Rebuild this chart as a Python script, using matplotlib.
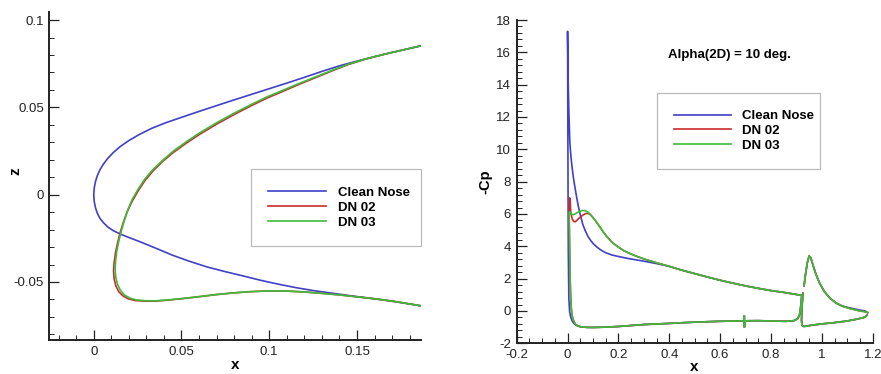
import matplotlib
matplotlib.use('Agg')
import matplotlib.pyplot as plt
import numpy as np
from matplotlib.ticker import MultipleLocator, FormatStrFormatter

plt.rcParams['font.family'] = ['Liberation Sans', 'DejaVu Sans']
plt.rcParams['axes.unicode_minus'] = False

# ---- nose contours (x, z), upper trailing end -> leading edge -> lower trailing end ----
clean_x = [0.1862, 0.17, 0.16, 0.15, 0.14, 0.13, 0.12, 0.11, 0.1, 0.09, 0.08, 0.07, 0.0606, 0.05,
           0.041, 0.033, 0.026, 0.02, 0.015, 0.011, 0.008, 0.0055, 0.0035, 0.002, 0.001, 0.0003, 0.0,
           0.0003, 0.001, 0.002, 0.0035, 0.0055, 0.008, 0.011, 0.015, 0.02, 0.027, 0.035, 0.045,
           0.055, 0.065, 0.075, 0.085, 0.095, 0.105, 0.115, 0.125, 0.135, 0.145, 0.155, 0.165, 0.175,
           0.1862]
clean_z = [0.0852, 0.0815, 0.079, 0.0765, 0.0738, 0.0706, 0.0672, 0.0639, 0.0607, 0.0575, 0.0543,
           0.051, 0.0479, 0.0443, 0.0412, 0.038, 0.0345, 0.031, 0.0275, 0.024, 0.0208, 0.0175, 0.0142,
           0.0108, 0.0075, 0.004, 0.0, -0.004, -0.0075, -0.0105, -0.0135, -0.016, -0.0185, -0.0205,
           -0.0225, -0.0245, -0.0272, -0.0305, -0.0347, -0.0383, -0.0415, -0.0441, -0.0465, -0.049,
           -0.0512, -0.0532, -0.0549, -0.0563, -0.0577, -0.059, -0.0603, -0.0618, -0.0636]

dn02_x = [0.1862, 0.175, 0.165, 0.155, 0.145, 0.137, 0.128, 0.118, 0.108, 0.0989, 0.09, 0.08, 0.07,
          0.0607, 0.053, 0.0455, 0.0392, 0.0337, 0.0292, 0.0257, 0.0222, 0.0193, 0.0171, 0.0152, 0.0137,
          0.0124, 0.0116, 0.0113, 0.0116, 0.0126, 0.0143, 0.0167, 0.0198, 0.0235, 0.029, 0.035, 0.042,
          0.05, 0.06, 0.07, 0.08, 0.09, 0.1, 0.11, 0.12, 0.13, 0.14, 0.15, 0.16, 0.17, 0.1862]
dn02_z = [0.0852, 0.0826, 0.0803, 0.0777, 0.0745, 0.0714, 0.0677, 0.0636, 0.0593, 0.0554, 0.0511,
          0.0459, 0.0404, 0.0348, 0.0297, 0.0243, 0.019, 0.0135, 0.0081, 0.0028, -0.0032, -0.0092,
          -0.0152, -0.0212, -0.0272, -0.0332, -0.0392, -0.0435, -0.048, -0.0522, -0.0556, -0.058,
          -0.0597, -0.0606, -0.061, -0.061, -0.0604, -0.0596, -0.0584, -0.0572, -0.0562, -0.0555,
          -0.0551, -0.0552, -0.0557, -0.0565, -0.0574, -0.0585, -0.0596, -0.0609, -0.0636]

dn03_x = [0.1862, 0.175, 0.165, 0.155, 0.145, 0.137, 0.128, 0.118, 0.108, 0.0989, 0.09, 0.08, 0.07,
          0.0607, 0.053, 0.0455, 0.0393, 0.0335, 0.029, 0.0255, 0.022, 0.0195, 0.0175, 0.0158, 0.0143,
          0.0131, 0.0124, 0.0122, 0.0126, 0.0136, 0.0152, 0.0175, 0.0205, 0.024, 0.029, 0.035, 0.042,
          0.05, 0.06, 0.07, 0.08, 0.09, 0.1, 0.11, 0.12, 0.13, 0.14, 0.15, 0.16, 0.17, 0.1862]
dn03_z = [0.0852, 0.0826, 0.0803, 0.0778, 0.0747, 0.0717, 0.0681, 0.0641, 0.0599, 0.0561, 0.0518,
          0.0467, 0.0412, 0.0356, 0.0305, 0.0251, 0.0197, 0.0142, 0.0088, 0.0035, -0.0025, -0.0085,
          -0.0145, -0.0205, -0.0265, -0.0325, -0.0385, -0.0431, -0.0475, -0.0515, -0.0548, -0.0574,
          -0.0592, -0.0602, -0.0607, -0.0608, -0.0603, -0.0595, -0.0584, -0.0572, -0.0562, -0.0555,
          -0.0551, -0.0552, -0.0557, -0.0565, -0.0574, -0.0585, -0.0596, -0.0609, -0.0636]

# ---- -Cp distributions, alpha = 10 deg ----
# main element, front part (lower branch reversed up to the peak, then upper branch)
clean_lo_x = [0.1, 0.08, 0.06, 0.045, 0.033, 0.024, 0.017, 0.012, 0.008, 0.005, 0.003, 0.002, 0.001, 0.0]
clean_lo_cp = [-1.02, -1.02, -1.0, -0.96, -0.88, -0.76, -0.58, -0.35, -0.05, 0.8, 3.5, 7.0, 12.0, 17.3]
clean_up_x = [0.002, 0.005, 0.009, 0.013, 0.017, 0.022, 0.028, 0.035, 0.042, 0.05, 0.06, 0.07, 0.08,
              0.09, 0.1, 0.115, 0.13, 0.15, 0.175, 0.2, 0.24, 0.3, 0.35]
clean_up_cp = [14.5, 12.4, 10.4, 9.6, 9.0, 8.35, 7.75, 7.1, 6.5, 5.95, 5.35, 4.95, 4.62,
               4.38, 4.18, 3.96, 3.78, 3.6, 3.46, 3.37, 3.24, 3.08, 2.93]

dn_lo_x = [0.1, 0.075, 0.05, 0.04, 0.032, 0.026, 0.021, 0.017, 0.014, 0.012, 0.010, 0.008, 0.006]
dn_lo_cp = [-1.02, -1.01, -0.97, -0.92, -0.83, -0.7, -0.5, -0.2, 0.3, 1.0, 2.0, 4.0, 6.1]
dn02_up_x = [0.008, 0.01, 0.012, 0.015, 0.018, 0.022, 0.026, 0.03, 0.035, 0.04, 0.045, 0.05, 0.06,
             0.07, 0.08, 0.09, 0.1, 0.11, 0.12, 0.13, 0.14, 0.153, 0.165, 0.175, 0.19, 0.2, 0.22,
             0.244, 0.27, 0.3, 0.35]
dn02_up_cp = [7.0, 6.95, 6.2, 5.9, 5.72, 5.58, 5.52, 5.52, 5.58, 5.66, 5.74, 5.8, 5.93,
              6.02, 6.04, 5.95, 5.78, 5.58, 5.36, 5.13, 4.9, 4.63, 4.42, 4.25, 4.06, 3.95, 3.74,
              3.56, 3.39, 3.22, 2.98]
dn03_up_x = [0.009, 0.015, 0.022, 0.03, 0.04, 0.05, 0.06, 0.07, 0.08, 0.09, 0.1, 0.11, 0.12, 0.13,
             0.14, 0.153, 0.165, 0.175, 0.19, 0.2, 0.22, 0.244, 0.27, 0.3, 0.35]
dn03_up_cp = [6.15, 6.0, 5.95, 6.0, 6.1, 6.18, 6.22, 6.2, 6.12, 5.97, 5.78, 5.58, 5.36, 5.13,
              4.9, 4.63, 4.42, 4.25, 4.06, 3.95, 3.74, 3.56, 3.39, 3.22, 2.98]

# main element, aft upper surface and lower surface back to the trailing edge
aft_up_x = [0.40, 0.45, 0.50, 0.55, 0.60, 0.65, 0.70, 0.75, 0.80, 0.85, 0.90, 0.921]
aft_up_cp = [2.76, 2.52, 2.31, 2.1, 1.9, 1.72, 1.55, 1.4, 1.26, 1.15, 1.02, 0.96]
aft_lo_x = [0.15, 0.2, 0.3, 0.4, 0.5, 0.6, 0.694, 0.695, 0.6955, 0.696, 0.75, 0.8, 0.86,
            0.89, 0.905, 0.912, 0.916, 0.919, 0.921]
aft_lo_cp = [-1.0, -0.96, -0.84, -0.77, -0.69, -0.64, -0.61, -0.3, -1.0, -0.61, -0.6, -0.62, -0.64,
             -0.6, -0.48, -0.25, 0.15, 0.6, 0.96]

# flap
flap_x = [1.178, 1.17, 1.14, 1.10, 1.05, 1.00, 0.96, 0.93, 0.922, 0.92, 0.921, 0.923, 0.926, np.nan,
          0.930, 0.936, 0.943, 0.950, 0.956, 0.965, 0.975, 0.99, 1.01, 1.03, 1.055, 1.08, 1.11, 1.145,
          1.17, 1.18]
flap_cp = [-0.25, -0.38, -0.5, -0.62, -0.72, -0.8, -0.88, -0.96, -0.9, -0.6, -0.1, 0.5, 1.1, np.nan,
           1.55, 2.3, 3.0, 3.4, 3.3, 2.85, 2.35, 1.75, 1.2, 0.82, 0.5, 0.3, 0.15, 0.02,
           -0.05, -0.1]
clean_flap_cp = [-0.25, -0.38, -0.5, -0.62, -0.72, -0.8, -0.88, -0.96, -0.9, -0.6, -0.1, 0.5, 1.1, np.nan,
                 1.55, 2.3, 3.0, 3.4, 3.3, 2.85, 2.35, 1.75, 1.2, 0.82, 0.5, 0.3, 0.19, 0.07,
                 0.0, -0.1]

labels = ['Clean Nose', 'DN 02', 'DN 03']
colors = ['#4040c8', '#cc2a2a', '#3cbc3c']


def main_element(lo_x, lo_cp, up_x, up_cp):
    # lower TE -> leading edge -> upper TE as one polyline
    x = aft_lo_x[::-1] + lo_x + up_x + aft_up_x
    cp = aft_lo_cp[::-1] + lo_cp + up_cp + aft_up_cp
    return x, cp


def style_axes(ax):
    for s in ['top', 'right']:
        ax.spines[s].set_visible(False)
    for s in ['left', 'bottom']:
        ax.spines[s].set_linewidth(1.4)
        ax.spines[s].set_color('#222222')
    ax.tick_params(which='major', direction='in', length=7, width=0.9, labelsize=9.5, pad=4, colors='#222222')
    ax.tick_params(which='minor', direction='in', length=3.8, width=0.7, colors='#222222')
    ax.xaxis.set_major_formatter(FormatStrFormatter('%g'))
    ax.yaxis.set_major_formatter(FormatStrFormatter('%g'))


fig = plt.figure(figsize=(8.81, 3.74), dpi=100)

# ===================== nose geometry =====================
ax1 = fig.add_axes([0.056, 0.091, 0.4219, 0.8777])
ax1.plot(clean_x, clean_z, color=colors[0], lw=1.2, label=labels[0])
ax1.plot(dn02_x, dn02_z, color=colors[1], lw=1.2, label=labels[1])
ax1.plot(dn03_x, dn03_z, color=colors[2], lw=1.2, label=labels[2])
ax1.set_xlim(-0.0253, 0.1865)
ax1.set_ylim(-0.0832, 0.1048)
ax1.xaxis.set_major_locator(MultipleLocator(0.05))
ax1.xaxis.set_minor_locator(MultipleLocator(0.01))
ax1.yaxis.set_major_locator(MultipleLocator(0.05))
ax1.yaxis.set_minor_locator(MultipleLocator(0.01))
style_axes(ax1)
leg1 = ax1.legend(loc='upper left', bbox_to_anchor=(0.543, 0.52, 0.457, 0.0), mode='expand',
                  prop={'weight': 'bold', 'size': 9.5}, frameon=True, fancybox=False,
                  edgecolor='#aaaaaa', handlelength=4.4, handletextpad=0.85, borderpad=1.3,
                  labelspacing=0.22, borderaxespad=0)
leg1.get_frame().set_linewidth(0.9)
fig.text(0.267, 0.024, 'x', ha='center', va='center', fontsize=11, fontweight='bold')
fig.text(0.018, 0.541, 'z', ha='center', va='center', fontsize=11, fontweight='bold', rotation=90)

# ===================== pressure distribution =====================
ax2 = fig.add_axes([0.5865, 0.0821, 0.4041, 0.8644])
x, cp = main_element(clean_lo_x, clean_lo_cp, clean_up_x, clean_up_cp)
ax2.plot(x, cp, color=colors[0], lw=1.2, label=labels[0])
ax2.plot(flap_x, clean_flap_cp, color=colors[0], lw=1.2)
x, cp = main_element(dn_lo_x, dn_lo_cp, dn02_up_x, dn02_up_cp)
ax2.plot(x, cp, color=colors[1], lw=1.2, label=labels[1])
ax2.plot(flap_x, flap_cp, color=colors[1], lw=1.2)
x, cp = main_element(dn_lo_x, dn_lo_cp, dn03_up_x, dn03_up_cp)
ax2.plot(x, cp, color=colors[2], lw=1.2, label=labels[2])
ax2.plot(flap_x, flap_cp, color=colors[2], lw=1.2)
ax2.set_xlim(-0.2, 1.2)
ax2.set_ylim(-2, 18)
ax2.xaxis.set_major_locator(MultipleLocator(0.2))
ax2.xaxis.set_minor_locator(MultipleLocator(0.05))
ax2.yaxis.set_major_locator(MultipleLocator(2))
ax2.yaxis.set_minor_locator(MultipleLocator(0.4))
style_axes(ax2)
leg2 = ax2.legend(loc='upper left', bbox_to_anchor=(0.395, 0.775, 0.457, 0.0), mode='expand',
                  prop={'weight': 'bold', 'size': 9.5}, frameon=True, fancybox=False,
                  edgecolor='#aaaaaa', handlelength=4.3, handletextpad=0.8, borderpad=1.3,
                  labelspacing=0.2, borderaxespad=0)
leg2.get_frame().set_linewidth(0.9)
ax2.text(0.426, 0.892, 'Alpha(2D) = 10 deg.', transform=ax2.transAxes, ha='left', va='center',
         fontsize=9.5, fontweight='bold')
fig.text(0.788, 0.02, 'x', ha='center', va='center', fontsize=11, fontweight='bold')
fig.text(0.551, 0.514, '-Cp', ha='center', va='center', fontsize=10.5, fontweight='bold', rotation=90)

fig.savefig('out.png', dpi=100)
